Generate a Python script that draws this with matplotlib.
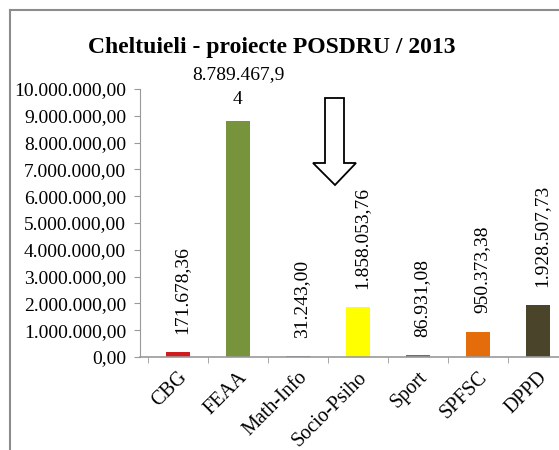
import matplotlib.pyplot as plt
from matplotlib.patches import Polygon
from matplotlib.lines import Line2D

# date
categorii = ['CBG', 'FEAA', 'Math-Info', 'Socio-Psiho', 'Sport', 'SPFSC', 'DPPD']
cheltuieli = [171678.36, 8789467.94, 31243.00, 1858053.76, 86931.08, 950373.38, 1928507.73]
culori = ['#d01c1f', '#77933c', '#6b7a8a', '#ffff00', '#6f6f6f', '#e46c0a', '#4a452a']
y_ticks = [i * 1000000 for i in range(11)]
titlu = 'Cheltuieli - proiecte POSDRU / 2013'


def format_ro(v):
    # 1234567.89 -> 1.234.567,89
    s = '{:,.2f}'.format(v)
    return s.replace(',', 'X').replace('.', ',').replace('X', '.')


plt.rcParams['font.family'] = ['Liberation Serif', 'DejaVu Serif']

W, H = 559, 450
fig = plt.figure(figsize=(W / 100, H / 100), dpi=100)

# rama exterioara
fig.add_artist(Line2D([10 / W, 10 / W], [0, 1 - 10 / H], transform=fig.transFigure,
                      color='#8c8c8c', lw=1.5))
fig.add_artist(Line2D([10 / W, 1], [1 - 10 / H, 1 - 10 / H], transform=fig.transFigure,
                      color='#8c8c8c', lw=1.5))

ax = fig.add_axes([140 / W, 93 / H, 428 / W, 268 / H])
x = list(range(len(categorii)))
ax.bar(x, cheltuieli, width=0.4, color=culori)

ax.set_xlim(-0.633, 6.5)
ax.set_ylim(0, 10000000)
ax.set_yticks(y_ticks)
ax.set_yticklabels([format_ro(v) for v in y_ticks], fontsize=14)
ax.set_xticks(x)
ax.set_xticklabels(categorii, rotation=45, ha='right', rotation_mode='anchor', fontsize=14.5)
ax.set_xticks([i + 0.5 for i in range(-1, len(categorii))], minor=True)
ax.tick_params(axis='x', which='major', length=0, pad=8)
ax.tick_params(axis='x', which='minor', length=4, color='#999999', direction='out')
ax.tick_params(axis='y', length=4, color='#999999', pad=6)
for s in ['top', 'right']:
    ax.spines[s].set_visible(False)
ax.spines['left'].set_color('#999999')
ax.spines['bottom'].set_color('#999999')
ax.spines['bottom'].set_linewidth(1.2)

# etichete valori
for xi, v in zip(x, cheltuieli):
    if v > 5000000:
        t = format_ro(v)
        ax.annotate(t[:-1] + '\n' + t[-1], (xi, v), xytext=(0, 10), textcoords='offset points',
                    ha='center', va='bottom', fontsize=14, linespacing=1.6)
    else:
        ax.annotate(format_ro(v), (xi, v), xytext=(3, 13), textcoords='offset points',
                    ha='center', va='bottom', rotation=90, fontsize=14)

fig.text(272 / W, 1 - 48 / H, titlu, ha='center', va='center', fontsize=17, fontweight='bold')

# sageata
sageata = [(325, 98), (344, 98), (344, 163), (356, 163), (335, 185),
           (313, 163), (325, 163)]
fig.add_artist(Polygon([(px / W, 1 - py / H) for px, py in sageata], closed=True,
                       transform=fig.transFigure, facecolor='white', edgecolor='black', lw=1.3))

fig.savefig('out.png', dpi=100)
